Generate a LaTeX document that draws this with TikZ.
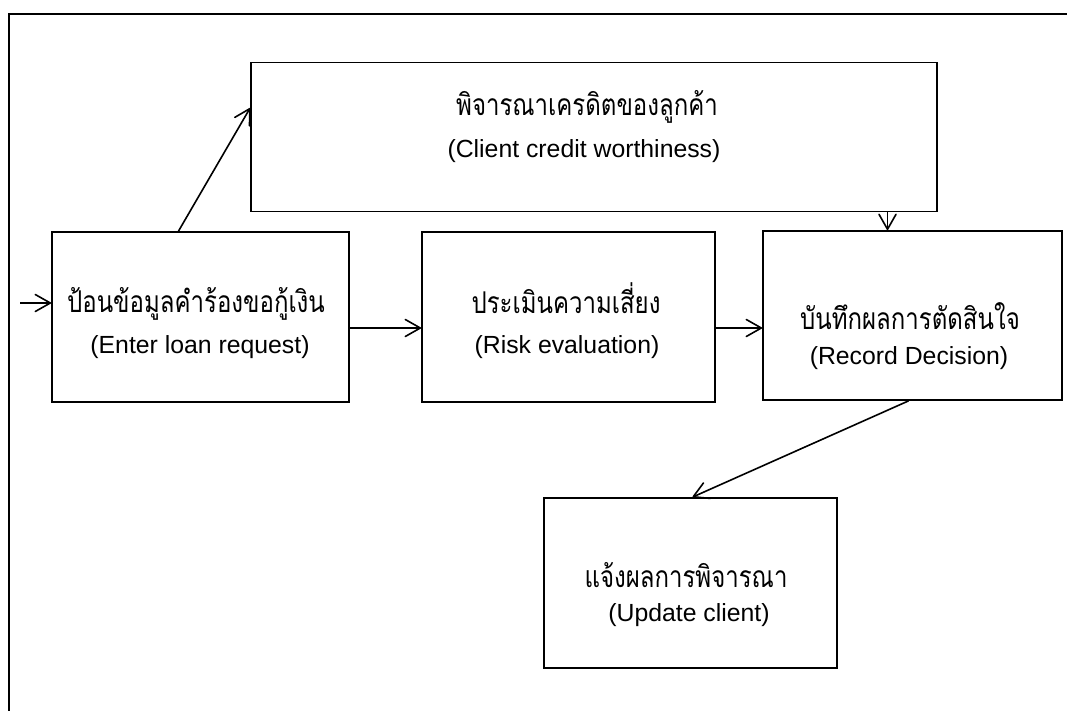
\documentclass[tikz,border=0pt]{standalone}
\usepackage{fontspec}
\setmainfont{Liberation Sans}
\newfontfamily\thai[Script=Thai, FakeStretch=0.8]{Loma}
\usetikzlibrary{arrows.meta}
\begin{document}
\begin{tikzpicture}[x=1pt,y=-1pt,
  box/.style={draw, line width=1.8pt, rectangle, inner sep=0pt},
  arr/.style={line width=1.6pt, -{Straight Barb[length=15pt,width=17pt,line width=1.6pt,round]}},
  th/.style={anchor=base, inner sep=0pt, font=\thai\fontsize{30}{34}\selectfont},
  en/.style={anchor=base, inner sep=0pt, font=\fontsize{24.8}{28}\selectfont},
  frame/.style={line width=1.8pt}
]
\useasboundingbox (0,0) rectangle (1067,711);
\draw[frame] (9,711) -- (9,14) -- (1067,14);

\node[box, minimum width=686pt, minimum height=149pt] (credit) at (594,137) {};
\node[box, minimum width=297pt, minimum height=170pt] (enter) at (200.5,317) {};
\node[box, minimum width=293pt, minimum height=170pt] (risk) at (568.5,317) {};
\node[box, minimum width=299pt, minimum height=169pt] (record) at (912.5,315.5) {};
\node[box, minimum width=293pt, minimum height=170pt] (update) at (690.5,583) {};

\node[th] (creditT) at (587,116) {พิจารณาเครดิตของลูกค้า};
\node[en] (creditE) at (584,158) {(Client credit worthiness)};
\node[th] (enterT) at (196,312) {ป้อนข้อมูลคำร้องขอกู้เงิน};
\node[en] (enterE) at (200,353) {(Enter loan request)};
\node[th] (riskT) at (566,313) {ประเมินความเสี่ยง};
\node[en] (riskE) at (567,353) {(Risk evaluation)};
\node[th] (recordT) at (910,329) {บันทึกผลการตัดสินใจ};
\node[en] (recordE) at (909,364) {(Record Decision)};
\node[th] (updateT) at (686,587) {แจ้งผลการพิจารณา};
\node[en] (updateE) at (689,621) {(Update client)};

\coordinate (start) at (20,303);
\draw[arr] (start) -- (start -| enter.west);
\draw[arr] ([yshift=-11pt]enter.east) -- ([yshift=-11pt]risk.west);
\draw[arr] ([yshift=-11pt]risk.east) -- ([yshift=-12.5pt]record.west);
\draw[arr] ([xshift=-22pt]enter.north) -- ([yshift=29pt]credit.west);
\draw[arr] ([xshift=-25pt]record.north |- credit.south) -- ([xshift=-25pt]record.north);
\draw[arr] ([xshift=-4pt]record.south) -- ([xshift=2pt]update.north);
\end{tikzpicture}
\end{document}
